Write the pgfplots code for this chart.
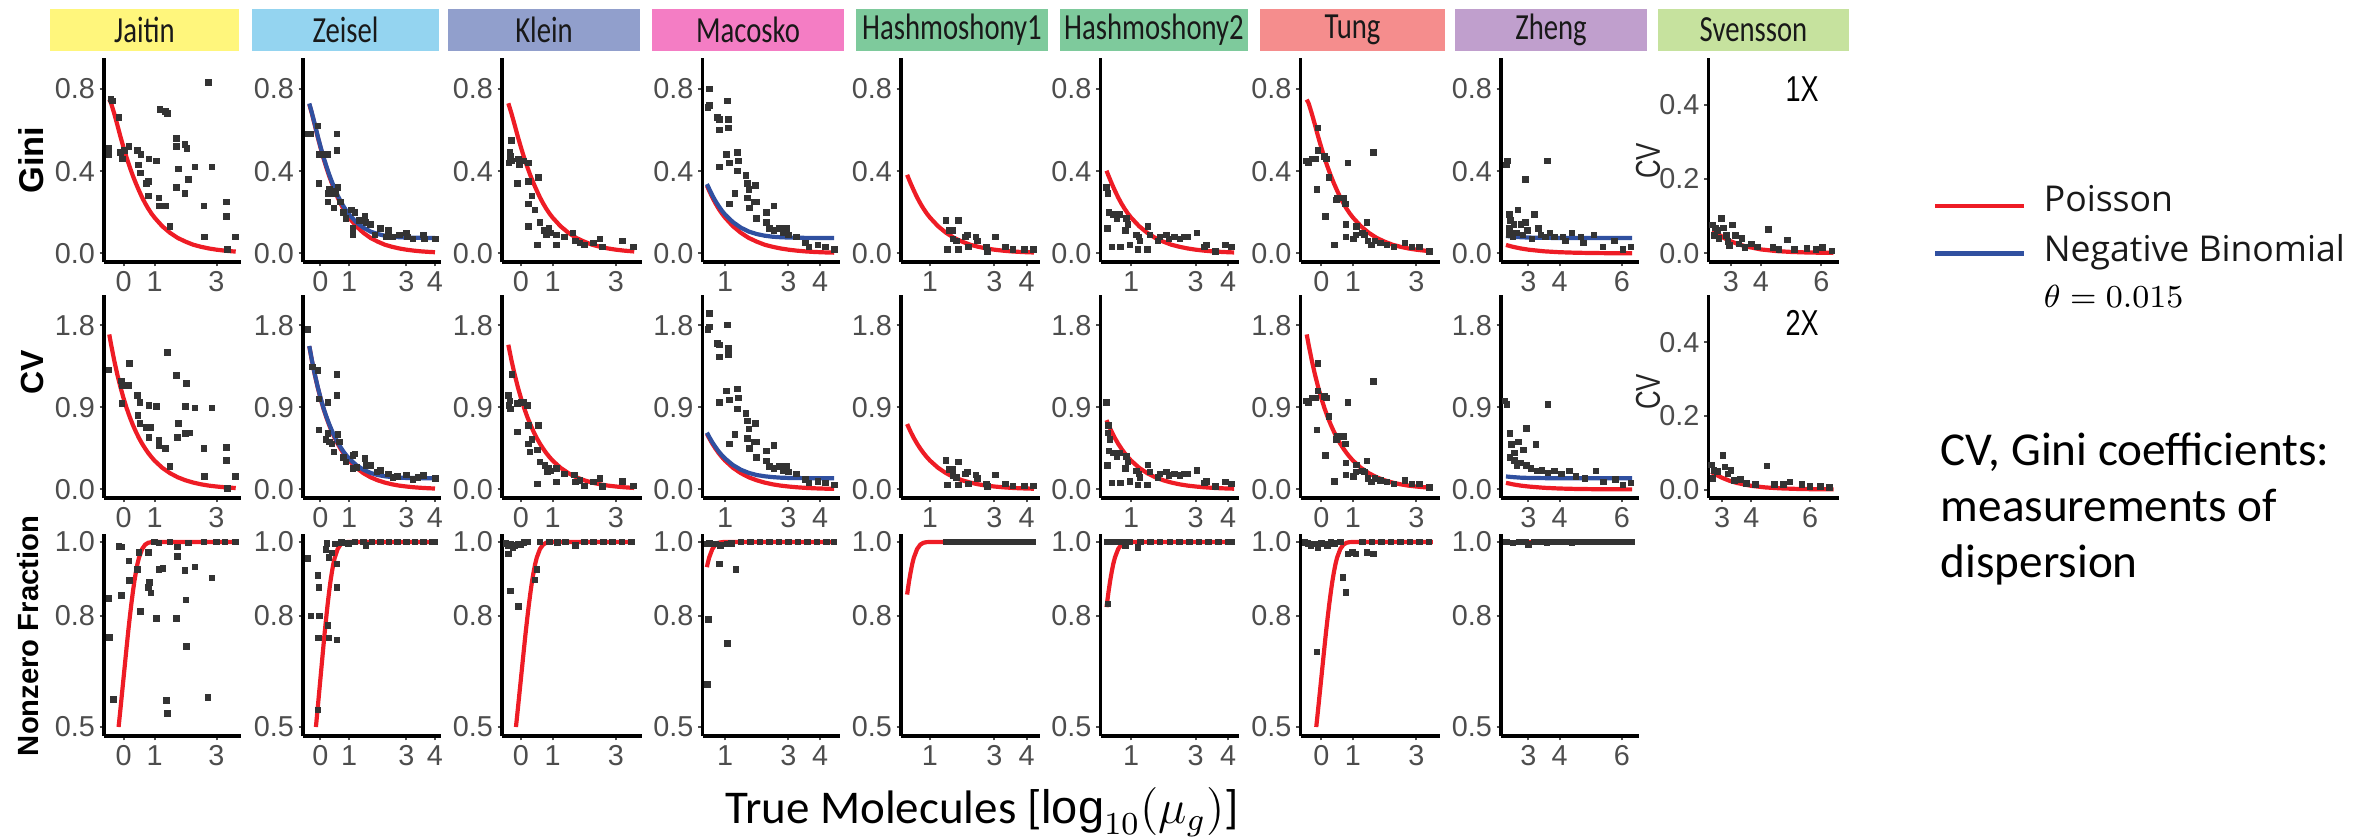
\documentclass[border=0pt]{standalone}
\usepackage{pgfplots}
\pgfplotsset{compat=1.18}
\usepackage{graphicx}
\usepackage{fontspec}
\setmainfont{Liberation Sans}
\newfontfamily\carlito{Carlito}
\newfontfamily\opensans{Open Sans}
\definecolor{tickgray}{HTML}{4D4D4D}
\definecolor{ptgray}{HTML}{333333}
\definecolor{pred}{HTML}{EE1C25}
\definecolor{pblue}{HTML}{3050A0}
\definecolor{hJ}{HTML}{FFF67C}
\definecolor{hZe}{HTML}{94D4F0}
\definecolor{hK}{HTML}{919FCC}
\definecolor{hM}{HTML}{F47DC4}
\definecolor{hH}{HTML}{7ECA9C}
\definecolor{hT}{HTML}{F58D8D}
\definecolor{hZh}{HTML}{C09FCD}
\definecolor{hS}{HTML}{C6E29E}
\newcommand\hd[1]{\scalebox{0.78}[1]{#1}}
\pgfplotsset{
  panel/.style={scale only axis, anchor=south west,
    axis x line*=bottom, axis y line*=left,
    axis line style={line width=0.8pt,-},
    tick align=outside, major tick length=1.1pt,
    tick style={line width=0.5pt,color=tickgray},
    tick label style={font=\fontsize{7.2}{8}\selectfont, text=tickgray},
    xticklabel style={inner sep=1pt}, yticklabel style={inner sep=1pt}},
  pts/.style={only marks, mark=square*, mark size=0.62pt, color=ptgray},
  pois/.style={no marks, line width=1.05pt, color=pred},
  nb/.style={no marks, line width=1.05pt, color=pblue},
  row1/.style={height=51pt, ymin=-0.042, ymax=0.95, ytick={0,0.4,0.8}, yticklabels={0.0,0.4,0.8}},
  row2/.style={height=50.75pt, ymin=-0.094, ymax=2.13, ytick={0,0.9,1.8}, yticklabels={0.0,0.9,1.8}},
  row3/.style={height=50.5pt, ymin=0.4757, ymax=1.0216, ytick={0.5,0.8,1.0}, yticklabels={0.5,0.8,1.0}},
  c1/.style={width=34.25pt, xmin=-0.63, xmax=3.79, xtick={0,1,3}, xticklabels={0,1,3}},
  c2/.style={width=34.5pt, xmin=-0.61, xmax=4.21, xtick={0,1,3,4}, xticklabels={0,1,3,4}},
  c3/.style={width=34.875pt, xmin=-0.6, xmax=3.81, xtick={0,1,3}, xticklabels={0,1,3}},
  c4/.style={width=34.25pt, xmin=0.29, xmax=4.61, xtick={1,3,4}, xticklabels={1,3,4}},
  c5/.style={width=34.625pt, xmin=0.1, xmax=4.4, xtick={1,3,4}, xticklabels={1,3,4}},
  c6/.style={width=34.575pt, xmin=0.06, xmax=4.34, xtick={1,3,4}, xticklabels={1,3,4}},
  c7/.style={width=34.75pt, xmin=-0.65, xmax=3.74, xtick={0,1,3}, xticklabels={0,1,3}},
  c8/.style={width=34.5pt, xmin=2.12, xmax=6.55, xtick={3,4,6}, xticklabels={3,4,6}},
  sv/.style={width=32.575pt, ytick={0,0.2,0.4}, yticklabels={0.0,0.2,0.4}, xtick={3,4,6}, xticklabels={3,4,6}},
}
\begin{document}
\begin{tikzpicture}[x=0.25pt,y=-0.25pt]
\useasboundingbox (0,0) rectangle (2367,837);
% ---------- headers ----------
\fill[hJ] (50,9) rectangle (239,51);
\fill[hZe] (252,9) rectangle (439,51);
\fill[hK] (448,9) rectangle (640,51);
\fill[hM] (652,9) rectangle (844,51);
\fill[hH] (856,9) rectangle (1048,51);
\fill[hH] (1060,9) rectangle (1248,51);
\fill[hT] (1260,9) rectangle (1445,51);
\fill[hZh] (1455,9) rectangle (1647,51);
\fill[hS] (1658,9) rectangle (1849,51);
\begin{scope}[every node/.style={font=\carlito\fontsize{9.2}{10}\selectfont, text=black!90}]
\node at (144.5,30) {\hd{Jaitin}};
\node at (345.5,30) {\hd{Zeisel}};
\node at (544,30) {\hd{Klein}};
\node at (748,30) {\hd{Macosko}};
\node at (952,30) {\hd{Hashmoshony1}};
\node at (1154,30) {\hd{Hashmoshony2}};
\node at (1352.5,30) {\hd{Tung}};
\node at (1551,30) {\hd{Zheng}};
\node at (1753.5,30) {\hd{Svensson}};
\end{scope}
% ---------- row labels ----------
\node[rotate=90, font=\bfseries\fontsize{8.6}{9}\selectfont] at (31,160) {Gini};
\node[rotate=90, font=\bfseries\fontsize{8}{9}\selectfont] at (32,372) {CV};
\node[rotate=90, font=\bfseries\fontsize{7.3}{9}\selectfont] at (28,636) {Nonzero Fraction};

% ================= ROW 1 : Gini =================
\begin{axis}[panel,row1,c1,at={(26pt,-65.5pt)}]
\addplot[pts] coordinates {(-0.4,0.75)(-0.35,0.74)(-0.47,0.51)(-0.47,0.48)(-0.14,0.66)(-0.1,0.49)(-0.04,0.46)(0.03,0.5)(0.17,0.52)(0.45,0.5)(0.49,0.43)(0.56,0.48)(0.54,0.39)(0.75,0.34)(0.8,0.35)(0.82,0.46)(0.8,0.28)(1.06,0.45)(1.14,0.27)(1.14,0.23)(1.17,0.7)(1.35,0.69)(1.41,0.68)(1.35,0.23)(1.5,0.13)(1.71,0.56)(1.71,0.52)(1.78,0.41)(1.71,0.32)(1.99,0.53)(2.05,0.51)(1.98,0.29)(2.09,0.36)(2.3,0.42)(2.59,0.23)(2.62,0.08)(2.75,0.83)(2.86,0.42)(3.32,0.25)(3.32,0.18)(3.35,0.02)(3.61,0.08)};
\addplot[pois] coordinates {(-0.46,0.748)(-0.4,0.73)(-0.3,0.68)(-0.2,0.625)(-0.1,0.568)(0,0.515)(0.1,0.465)(0.2,0.42)(0.3,0.378)(0.4,0.34)(0.5,0.305)(0.6,0.272)(0.7,0.243)(0.8,0.217)(0.9,0.194)(1,0.174)(1.25,0.132)(1.5,0.1)(1.75,0.075)(2,0.057)(2.25,0.042)(2.5,0.032)(2.75,0.024)(3,0.018)(3.25,0.0135)(3.5,0.01)(3.62,0.009)};
\end{axis}
\begin{axis}[panel,row1,c2,at={(75.75pt,-65.5pt)}]
\addplot[pts] coordinates {(-0.44,0.58)(-0.33,0.58)(-0.09,0.62)(-0.05,0.48)(0.03,0.48)(0.27,0.48)(-0.05,0.34)(0.58,0.58)(0.58,0.5)(0.31,0.31)(0.28,0.29)(0.27,0.25)(0.53,0.29)(0.61,0.32)(0.47,0.22)(0.69,0.25)(0.89,0.17)(1.13,0.12)(1.09,0.21)(1.2,0.2)(1.36,0.16)(1.56,0.18)(1.59,0.15)(1.75,0.14)(2.09,0.12)(2.38,0.11)(2.53,0.08)(3.0,0.1)(3.03,0.08)(3.23,0.07)(3.59,0.09)(3.63,0.07)(4.02,0.07)(1.13,0.09)(1.9,0.09)(2.3,0.08)(2.77,0.09)(0.4,0.3)(0.8,0.2)};
\addplot[pois] coordinates {(-0.39,0.725)(-0.3,0.68)(-0.2,0.625)(-0.1,0.568)(0,0.515)(0.1,0.465)(0.2,0.42)(0.3,0.378)(0.4,0.34)(0.5,0.305)(0.6,0.272)(0.7,0.243)(0.8,0.217)(0.9,0.194)(1,0.174)(1.25,0.132)(1.5,0.1)(1.75,0.075)(2,0.057)(2.25,0.042)(2.5,0.032)(2.75,0.024)(3,0.018)(3.25,0.0135)(3.5,0.01)(3.75,0.0075)(4,0.0056)};
\addplot[nb] coordinates {(-0.39,0.729)(-0.3,0.684)(-0.2,0.629)(-0.1,0.573)(0,0.52)(0.1,0.471)(0.2,0.427)(0.3,0.385)(0.4,0.348)(0.5,0.314)(0.6,0.282)(0.7,0.254)(0.8,0.23)(0.9,0.208)(1,0.189)(1.25,0.152)(1.5,0.125)(1.75,0.106)(2,0.094)(2.25,0.086)(2.5,0.081)(2.75,0.0786)(3,0.077)(3.5,0.0755)(4,0.075)};
\end{axis}
\begin{axis}[panel,row1,c3,at={(125.5pt,-65.5pt)}]
\addplot[pts] coordinates {(-0.35,0.49)(-0.33,0.47)(-0.28,0.45)(-0.3,0.55)(-0.08,0.46)(-0.04,0.43)(-0.11,0.34)(0.24,0.44)(0.24,0.35)(0.24,0.24)(0.24,0.13)(0.55,0.37)(0.52,0.04)(0.45,0.21)(0.74,0.11)(0.81,0.09)(0.88,0.12)(1.13,0.09)(1.13,0.04)(1.37,0.08)(1.65,0.1)(1.73,0.06)(2.01,0.04)(2.29,0.05)(2.5,0.07)(2.57,0.03)(3.21,0.06)(3.56,0.03)(1.87,0.05)(-0.38,0.44)(0.1,0.45)(0.35,0.28)(0.6,0.15)(0.95,0.1)};
\addplot[pois] coordinates {(-0.4,0.73)(-0.3,0.68)(-0.2,0.625)(-0.1,0.568)(0,0.515)(0.1,0.465)(0.2,0.42)(0.3,0.378)(0.4,0.34)(0.5,0.305)(0.6,0.272)(0.7,0.243)(0.8,0.217)(0.9,0.194)(1,0.174)(1.25,0.132)(1.5,0.1)(1.75,0.075)(2,0.057)(2.25,0.042)(2.5,0.032)(2.75,0.024)(3,0.018)(3.25,0.0135)(3.58,0.0092)};
\end{axis}
\begin{axis}[panel,row1,c4,at={(175.625pt,-65.5pt)}]
\addplot[pts] coordinates {(0.46,0.71)(0.51,0.72)(0.51,0.80)(0.76,0.66)(0.83,0.65)(0.83,0.6)(1.07,0.74)(1.11,0.65)(1.11,0.61)(0.82,0.42)(1.04,0.48)(1.14,0.44)(1.39,0.49)(1.42,0.45)(1.31,0.29)(1.14,0.24)(1.39,0.4)(1.66,0.38)(1.7,0.34)(1.75,0.31)(1.7,0.27)(1.77,0.22)(1.96,0.33)(1.92,0.25)(2.01,0.25)(1.99,0.17)(2.3,0.2)(2.3,0.15)(2.55,0.23)(2.41,0.12)(2.55,0.11)(2.72,0.12)(2.94,0.12)(3.01,0.09)(3.25,0.08)(3.54,0.05)(3.65,0.03)(3.93,0.04)(4.17,0.03)(4.45,0.02)(2.83,0.1)};
\addplot[pois] coordinates {(0.43,0.329)(0.5,0.305)(0.6,0.272)(0.7,0.243)(0.8,0.217)(0.9,0.194)(1,0.174)(1.25,0.132)(1.5,0.1)(1.75,0.075)(2,0.057)(2.25,0.042)(2.5,0.032)(2.75,0.024)(3,0.018)(3.25,0.0135)(3.5,0.01)(3.75,0.0075)(4,0.0056)(4.25,0.0042)(4.44,0.0035)};
\addplot[nb] coordinates {(0.43,0.337)(0.5,0.314)(0.6,0.282)(0.7,0.254)(0.8,0.23)(0.9,0.208)(1,0.189)(1.25,0.152)(1.5,0.125)(1.75,0.106)(2,0.094)(2.25,0.086)(2.5,0.081)(2.75,0.0786)(3,0.077)(3.5,0.0755)(4,0.075)(4.44,0.0749)};
\end{axis}
\begin{axis}[panel,row1,c5,at={(225.25pt,-65.5pt)}]
\addplot[pts] coordinates {(1.5,0.16)(1.54,0.02)(1.6,0.11)(1.71,0.07)(1.82,0.06)(1.88,0.16)(1.88,0.02)(2.1,0.08)(2.17,0.09)(2.19,0.03)(2.43,0.08)(2.47,0.06)(2.75,0.03)(2.79,0.01)(3.03,0.08)(3.35,0.03)(3.58,0.02)(3.93,0.02)(4.21,0.02)(1.71,0.11)};
\addplot[pois] coordinates {(0.29,0.382)(0.3,0.378)(0.4,0.34)(0.5,0.305)(0.6,0.272)(0.7,0.243)(0.8,0.217)(0.9,0.194)(1,0.174)(1.25,0.132)(1.5,0.1)(1.75,0.075)(2,0.057)(2.25,0.042)(2.5,0.032)(2.75,0.024)(3,0.018)(3.25,0.0135)(3.5,0.01)(3.75,0.0075)(4,0.0056)(4.23,0.0043)};
\end{axis}
\begin{axis}[panel,row1,c6,at={(275.175pt,-65.5pt)}]
\addplot[pts] coordinates {(0.24,0.32)(0.28,0.29)(0.31,0.2)(0.27,0.12)(0.41,0.03)(0.56,0.17)(0.66,0.19)(0.68,0.03)(0.86,0.17)(0.9,0.14)(0.96,0.04)(0.83,0.11)(1.17,0.09)(1.25,0.08)(1.21,0.02)(1.28,0.06)(1.52,0.13)(1.51,0.02)(1.58,0.09)(1.83,0.06)(1.89,0.08)(2.1,0.09)(2.17,0.07)(2.35,0.08)(2.51,0.07)(2.65,0.08)(2.76,0.08)(3.04,0.1)(3.27,0.03)(3.34,0.04)(3.61,0.01)(3.92,0.04)(4.1,0.03)(0.45,0.19)};
\addplot[pois] coordinates {(0.24,0.402)(0.3,0.378)(0.4,0.34)(0.5,0.305)(0.6,0.272)(0.7,0.243)(0.8,0.217)(0.9,0.194)(1,0.174)(1.25,0.132)(1.5,0.1)(1.75,0.075)(2,0.057)(2.25,0.042)(2.5,0.032)(2.75,0.024)(3,0.018)(3.25,0.0135)(3.5,0.01)(3.75,0.0075)(4,0.0056)(4.19,0.0045)};
\end{axis}
\begin{axis}[panel,row1,c7,at={(325.175pt,-65.5pt)}]
\addplot[pts] coordinates {(-0.47,0.45)(-0.4,0.44)(-0.28,0.46)(-0.18,0.46)(-0.11,0.5)(-0.11,0.61)(0.1,0.47)(0.17,0.46)(-0.14,0.31)(0.14,0.18)(0.24,0.37)(0.42,0.04)(0.48,0.26)(0.52,0.27)(0.71,0.27)(0.76,0.24)(0.78,0.14)(0.78,0.08)(0.85,0.44)(1.02,0.07)(1.09,0.09)(1.12,0.13)(1.44,0.15)(1.37,0.09)(1.58,0.04)(1.65,0.49)(1.7,0.06)(1.87,0.05)(2.08,0.04)(2.29,0.03)(2.64,0.05)(2.86,0.03)(3.11,0.03)(3.42,0.01)(1.3,0.1)(1.47,0.06)};
\addplot[pois] coordinates {(-0.46,0.748)(-0.4,0.73)(-0.3,0.68)(-0.2,0.625)(-0.1,0.568)(0,0.515)(0.1,0.465)(0.2,0.42)(0.3,0.378)(0.4,0.34)(0.5,0.305)(0.6,0.272)(0.7,0.243)(0.8,0.217)(0.9,0.194)(1,0.174)(1.25,0.132)(1.5,0.1)(1.75,0.075)(2,0.057)(2.25,0.042)(2.5,0.032)(2.75,0.024)(3,0.018)(3.25,0.0135)(3.52,0.0098)};
\end{axis}
\begin{axis}[panel,row1,c8,at={(375.25pt,-65.5pt)}]
\addplot[pts] coordinates {(2.29,0.43)(2.33,0.45)(3.61,0.45)(2.9,0.36)(2.4,0.19)(2.43,0.16)(2.66,0.21)(3.19,0.19)(2.4,0.12)(2.54,0.14)(2.76,0.14)(2.9,0.15)(2.61,0.1)(2.83,0.09)(2.97,0.11)(3.11,0.07)(3.33,0.12)(3.4,0.09)(3.54,0.08)(3.69,0.1)(3.83,0.08)(4.11,0.08)(4.4,0.1)(4.19,0.06)(4.69,0.08)(4.76,0.05)(5.11,0.09)(5.4,0.03)(5.76,0.06)(6.04,0.02)(6.29,0.03)(2.4,0.09)(2.51,0.08)};
\addplot[pois] coordinates {(2.28,0.041)(2.5,0.032)(2.75,0.024)(3,0.018)(3.5,0.01)(4,0.0056)(4.5,0.0032)(5,0.0018)(5.5,0.001)(6,0.0006)(6.33,0.0004)};
\addplot[nb] coordinates {(2.28,0.085)(2.5,0.0812)(2.75,0.0786)(3,0.077)(3.5,0.0755)(4,0.075)(5,0.0748)(6.33,0.0748)};
\end{axis}
\begin{axis}[panel,sv,height=51pt,ymin=-0.024,ymax=0.527,xmin=2.26,xmax=6.58,at={(427.125pt,-65.5pt)}]
\addplot[pts] coordinates {(2.4,0.076)(2.45,0.047)(2.55,0.061)(2.69,0.093)(2.75,0.068)(2.86,0.047)(2.9,0.032)(3.06,0.076)(3.16,0.047)(3.27,0.025)(3.37,0.039)(3.68,0.025)(3.88,0.017)(4.25,0.064)(4.4,0.015)(4.6,0.01)(4.87,0.035)(5.11,0.01)(5.53,0.013)(5.83,0.01)(6.04,0.015)(6.35,0.006)(2.49,0.068)(2.61,0.039)(2.96,0.02)(3.47,0.015)};
\addplot[pois] coordinates {(2.41,0.0624)(2.5,0.056)(2.75,0.042)(3,0.032)(3.25,0.024)(3.5,0.018)(4,0.01)(4.5,0.0056)(5,0.0032)(5.5,0.0018)(6,0.001)(6.4,0.0006)};
\end{axis}

% ================= ROW 2 : CV =================
\begin{axis}[panel,row2,c1,at={(26pt,-124.5pt)}]
\addplot[pts] coordinates {(-0.47,1.31)(-0.06,1.19)(-0.04,1.14)(0.18,1.14)(-0.05,0.94)(0.2,1.38)(0.45,1.03)(0.53,0.95)(0.47,0.81)(0.53,0.72)(0.75,0.68)(0.87,0.68)(0.82,0.57)(0.82,0.92)(1.06,0.91)(1.14,0.54)(1.14,0.48)(1.35,0.45)(1.41,1.5)(1.5,0.25)(1.71,1.25)(1.78,0.72)(1.74,0.57)(2.03,1.16)(2.0,0.91)(2.0,0.61)(2.12,0.62)(2.3,0.89)(2.59,0.45)(2.62,0.14)(2.86,0.89)(3.32,0.46)(3.32,0.32)(3.35,0.01)(3.61,0.14)};
\addplot[pois] coordinates {(-0.46,1.698)(-0.4,1.585)(-0.3,1.413)(-0.2,1.259)(-0.1,1.122)(0,1)(0.1,0.891)(0.2,0.794)(0.3,0.708)(0.4,0.631)(0.5,0.562)(0.6,0.501)(0.7,0.447)(0.8,0.398)(0.9,0.355)(1,0.316)(1.25,0.237)(1.5,0.178)(1.75,0.133)(2,0.1)(2.25,0.075)(2.5,0.056)(2.75,0.042)(3,0.032)(3.25,0.024)(3.5,0.018)(3.62,0.0155)};
\end{axis}
\begin{axis}[panel,row2,c2,at={(75.75pt,-124.5pt)}]
\addplot[pts] coordinates {(-0.44,1.75)(-0.28,1.34)(-0.08,1.3)(-0.05,0.99)(0.27,0.95)(0.58,1.26)(0.58,1.03)(-0.05,0.65)(0.27,0.61)(0.31,0.52)(0.61,0.6)(0.47,0.41)(0.66,0.52)(0.89,0.3)(1.13,0.37)(1.2,0.39)(1.13,0.23)(1.56,0.34)(1.59,0.26)(1.75,0.26)(2.09,0.21)(2.38,0.17)(2.53,0.13)(3.0,0.16)(3.23,0.11)(3.59,0.15)(4.02,0.12)(1.28,0.24)(1.98,0.19)(0.2,0.55)(0.4,0.5)(0.8,0.35)(2.7,0.14)(3.4,0.13)};
\addplot[pois] coordinates {(-0.39,1.567)(-0.3,1.413)(-0.2,1.259)(-0.1,1.122)(0,1)(0.1,0.891)(0.2,0.794)(0.3,0.708)(0.4,0.631)(0.5,0.562)(0.6,0.501)(0.7,0.447)(0.8,0.398)(0.9,0.355)(1,0.316)(1.25,0.237)(1.5,0.178)(1.75,0.133)(2,0.1)(2.25,0.075)(2.5,0.056)(2.75,0.042)(3,0.032)(3.25,0.024)(3.5,0.018)(3.75,0.0133)(4,0.01)};
\addplot[nb] coordinates {(-0.39,1.572)(-0.3,1.418)(-0.2,1.265)(-0.1,1.129)(0,1.007)(0.1,0.899)(0.2,0.804)(0.3,0.719)(0.4,0.643)(0.5,0.576)(0.6,0.516)(0.7,0.464)(0.8,0.416)(0.9,0.375)(1,0.339)(1.25,0.267)(1.5,0.216)(1.75,0.181)(2,0.158)(2.25,0.144)(2.5,0.135)(2.75,0.129)(3,0.126)(3.5,0.1237)(4,0.1229)};
\end{axis}
\begin{axis}[panel,row2,c3,at={(125.5pt,-124.5pt)}]
\addplot[pts] coordinates {(-0.4,1.03)(-0.35,0.97)(-0.33,0.88)(-0.28,1.26)(-0.11,0.94)(0,0.95)(-0.11,0.63)(0.21,0.92)(0.24,0.7)(0.24,0.5)(0.28,0.41)(0.55,0.7)(0.52,0.43)(0.52,0.06)(0.76,0.26)(0.83,0.19)(0.88,0.23)(1.13,0.23)(1.13,0.08)(1.37,0.17)(1.7,0.16)(1.73,0.08)(2.01,0.04)(2.29,0.08)(2.5,0.12)(2.57,0.03)(3.21,0.09)(3.56,0.04)(-0.38,0.92)(0.1,0.95)(0.35,0.55)(0.6,0.3)(0.95,0.2)(1.87,0.1)};
\addplot[pois] coordinates {(-0.4,1.585)(-0.3,1.413)(-0.2,1.259)(-0.1,1.122)(0,1)(0.1,0.891)(0.2,0.794)(0.3,0.708)(0.4,0.631)(0.5,0.562)(0.6,0.501)(0.7,0.447)(0.8,0.398)(0.9,0.355)(1,0.316)(1.25,0.237)(1.5,0.178)(1.75,0.133)(2,0.1)(2.25,0.075)(2.5,0.056)(2.75,0.042)(3,0.032)(3.25,0.024)(3.58,0.0163)};
\end{axis}
\begin{axis}[panel,row2,c4,at={(175.625pt,-124.5pt)}]
\addplot[pts] coordinates {(0.46,1.75)(0.51,1.78)(0.51,1.93)(0.76,1.6)(0.83,1.58)(0.83,1.45)(1.07,1.8)(1.11,1.55)(1.11,1.48)(0.82,0.95)(1.04,1.08)(1.14,0.98)(1.39,1.1)(1.42,1.0)(1.31,0.6)(1.14,0.5)(1.39,0.88)(1.66,0.83)(1.7,0.75)(1.75,0.66)(1.7,0.56)(1.77,0.45)(1.96,0.72)(1.92,0.52)(2.01,0.52)(1.99,0.35)(2.3,0.42)(2.3,0.31)(2.55,0.48)(2.41,0.25)(2.55,0.23)(2.72,0.25)(2.94,0.25)(3.01,0.19)(3.25,0.17)(3.54,0.11)(3.65,0.07)(3.93,0.09)(4.17,0.07)(4.45,0.05)(2.83,0.21)};
\addplot[pois] coordinates {(0.43,0.61)(0.5,0.562)(0.6,0.501)(0.7,0.447)(0.8,0.398)(0.9,0.355)(1,0.316)(1.25,0.237)(1.5,0.178)(1.75,0.133)(2,0.1)(2.25,0.075)(2.5,0.056)(2.75,0.042)(3,0.032)(3.25,0.024)(3.5,0.018)(3.75,0.0133)(4,0.01)(4.25,0.0075)(4.44,0.0063)};
\addplot[nb] coordinates {(0.43,0.622)(0.5,0.576)(0.6,0.516)(0.7,0.464)(0.8,0.416)(0.9,0.375)(1,0.339)(1.25,0.267)(1.5,0.216)(1.75,0.181)(2,0.158)(2.25,0.144)(2.5,0.135)(2.75,0.129)(3,0.126)(3.5,0.1237)(4,0.1229)(4.44,0.1226)};
\end{axis}
\begin{axis}[panel,row2,c5,at={(225.25pt,-124.5pt)}]
\addplot[pts] coordinates {(1.5,0.32)(1.54,0.05)(1.6,0.22)(1.71,0.15)(1.82,0.13)(1.88,0.3)(1.88,0.05)(2.1,0.17)(2.17,0.19)(2.19,0.06)(2.43,0.16)(2.47,0.12)(2.75,0.06)(2.79,0.03)(3.03,0.16)(3.35,0.06)(3.58,0.04)(3.93,0.04)(4.21,0.04)(1.71,0.22)};
\addplot[pois] coordinates {(0.29,0.716)(0.3,0.708)(0.4,0.631)(0.5,0.562)(0.6,0.501)(0.7,0.447)(0.8,0.398)(0.9,0.355)(1,0.316)(1.25,0.237)(1.5,0.178)(1.75,0.133)(2,0.1)(2.25,0.075)(2.5,0.056)(2.75,0.042)(3,0.032)(3.25,0.024)(3.5,0.018)(3.75,0.0133)(4,0.01)(4.23,0.0077)};
\end{axis}
\begin{axis}[panel,row2,c6,at={(275.175pt,-124.5pt)}]
\addplot[pts] coordinates {(0.24,0.95)(0.28,0.62)(0.31,0.42)(0.27,0.26)(0.41,0.07)(0.56,0.36)(0.66,0.4)(0.68,0.07)(0.86,0.36)(0.9,0.3)(0.96,0.09)(0.83,0.23)(1.17,0.2)(1.25,0.17)(1.21,0.05)(1.28,0.13)(1.52,0.27)(1.51,0.05)(1.58,0.19)(1.83,0.13)(1.89,0.17)(2.1,0.19)(2.17,0.15)(2.35,0.17)(2.51,0.15)(2.65,0.17)(2.76,0.17)(3.04,0.21)(3.27,0.07)(3.34,0.09)(3.61,0.03)(3.92,0.08)(4.1,0.06)(0.45,0.4)(0.3,0.7)(0.35,0.55)};
\addplot[pois] coordinates {(0.24,0.759)(0.3,0.708)(0.4,0.631)(0.5,0.562)(0.6,0.501)(0.7,0.447)(0.8,0.398)(0.9,0.355)(1,0.316)(1.25,0.237)(1.5,0.178)(1.75,0.133)(2,0.1)(2.25,0.075)(2.5,0.056)(2.75,0.042)(3,0.032)(3.25,0.024)(3.5,0.018)(3.75,0.0133)(4,0.01)(4.19,0.008)};
\end{axis}
\begin{axis}[panel,row2,c7,at={(325.175pt,-124.5pt)}]
\addplot[pts] coordinates {(-0.47,0.97)(-0.4,0.95)(-0.28,1.0)(-0.18,1.0)(-0.11,1.08)(-0.11,1.38)(0.1,1.02)(0.17,1.0)(-0.14,0.65)(0.14,0.37)(0.24,0.8)(0.42,0.09)(0.48,0.55)(0.52,0.58)(0.71,0.58)(0.76,0.5)(0.78,0.29)(0.78,0.16)(0.85,0.95)(1.02,0.14)(1.09,0.19)(1.12,0.27)(1.44,0.31)(1.37,0.19)(1.58,0.08)(1.65,1.18)(1.7,0.12)(1.87,0.1)(2.08,0.08)(2.29,0.06)(2.64,0.1)(2.86,0.06)(3.11,0.06)(3.42,0.02)(1.3,0.2)(1.47,0.12)};
\addplot[pois] coordinates {(-0.46,1.698)(-0.4,1.585)(-0.3,1.413)(-0.2,1.259)(-0.1,1.122)(0,1)(0.1,0.891)(0.2,0.794)(0.3,0.708)(0.4,0.631)(0.5,0.562)(0.6,0.501)(0.7,0.447)(0.8,0.398)(0.9,0.355)(1,0.316)(1.25,0.237)(1.5,0.178)(1.75,0.133)(2,0.1)(2.25,0.075)(2.5,0.056)(2.75,0.042)(3,0.032)(3.25,0.024)(3.52,0.0174)};
\end{axis}
\begin{axis}[panel,row2,c8,at={(375.25pt,-124.5pt)}]
\addplot[pts] coordinates {(2.25,0.97)(2.31,0.93)(3.63,0.93)(2.94,0.67)(2.41,0.61)(2.45,0.49)(2.68,0.52)(2.84,0.43)(3.24,0.49)(2.41,0.35)(2.55,0.32)(2.74,0.29)(2.94,0.26)(3.08,0.23)(3.28,0.2)(3.43,0.21)(3.63,0.18)(3.83,0.2)(4.07,0.17)(4.32,0.2)(4.52,0.14)(4.81,0.12)(5.17,0.2)(5.41,0.08)(5.8,0.11)(6.04,0.05)(6.29,0.07)(2.55,0.4)(2.64,0.26)};
\addplot[pois] coordinates {(2.28,0.0724)(2.5,0.056)(2.75,0.042)(3,0.032)(3.5,0.018)(4,0.01)(4.5,0.0056)(5,0.0032)(5.5,0.0018)(6,0.001)(6.33,0.0007)};
\addplot[nb] coordinates {(2.28,0.142)(2.5,0.135)(2.75,0.129)(3,0.126)(3.5,0.1237)(4,0.1229)(5,0.1225)(6.33,0.1225)};
\end{axis}
\begin{axis}[panel,sv,height=50.75pt,ymin=-0.023,ymax=0.528,xmin=2.54,xmax=6.98,at={(427.125pt,-124.5pt)}]
\addplot[pts] coordinates {(2.64,0.067)(2.73,0.052)(2.69,0.03)(2.85,0.049)(3.04,0.093)(3.1,0.061)(3.21,0.042)(3.31,0.052)(3.42,0.025)(3.63,0.028)(3.84,0.017)(4.15,0.013)(4.53,0.064)(4.78,0.013)(5.1,0.013)(5.31,0.02)(5.73,0.013)(6.0,0.009)(6.35,0.009)(6.67,0.006)};
\addplot[pois] coordinates {(2.64,0.0479)(2.75,0.042)(3,0.032)(3.25,0.024)(3.5,0.018)(4,0.01)(4.5,0.0056)(5,0.0032)(5.5,0.0018)(6,0.001)(6.5,0.00056)(6.8,0.0004)};
\end{axis}

% ================= ROW 3 : Nonzero fraction =================
\begin{axis}[panel,row3,c1,at={(26pt,-184pt)}]
\addplot[pts] coordinates {(-0.47,0.848)(-0.46,0.742)(-0.33,0.575)(-0.14,0.988)(-0.06,0.986)(-0.06,0.855)(0.17,0.949)(0.2,0.896)(0.45,0.925)(0.5,0.971)(0.54,0.812)(0.8,0.877)(0.83,0.891)(0.88,0.862)(0.8,0.971)(1.06,0.794)(1.14,0.925)(1.28,0.928)(1.14,0.997)(1.39,0.572)(1.42,0.536)(1.5,1.0)(1.71,0.794)(1.74,0.986)(1.74,0.961)(1.99,0.923)(2.01,0.843)(2.03,0.717)(2.1,0.997)(2.3,0.932)(2.59,1.0)(2.73,0.58)(2.86,0.903)(3.27,1)(3.61,1)(1.0,1.0)(3.0,1.0)};
\addplot[pois] coordinates {(-0.159,0.5)(-0.1,0.548)(-0.05,0.59)(0,0.632)(0.05,0.674)(0.1,0.716)(0.15,0.757)(0.2,0.795)(0.25,0.831)(0.3,0.864)(0.35,0.894)(0.4,0.919)(0.45,0.941)(0.5,0.958)(0.6,0.981)(0.7,0.993)(0.8,0.998)(0.9,0.9996)(1,1)(3.62,1)};
\end{axis}
\begin{axis}[panel,row3,c2,at={(75.75pt,-184pt)}]
\addplot[pts] coordinates {(-0.44,0.955)(-0.33,0.80)(-0.08,0.91)(-0.05,0.877)(-0.03,0.80)(-0.06,0.74)(-0.08,0.546)(0.23,0.996)(0.3,0.958)(0.27,0.775)(0.3,0.74)(0.58,0.94)(0.58,0.877)(0.58,0.735)(0.5,0.994)(0.73,0.998)(0.97,0.996)(1.59,0.99)(1.2,1)(1.5,1)(1.8,1)(2.1,1)(2.4,1)(2.7,1)(3.0,1)(3.3,1)(3.6,1)(3.9,1)(4.0,1)(0.2,0.98)(0.4,0.97)};
\addplot[pois] coordinates {(-0.159,0.5)(-0.1,0.548)(-0.05,0.59)(0,0.632)(0.05,0.674)(0.1,0.716)(0.15,0.757)(0.2,0.795)(0.25,0.831)(0.3,0.864)(0.35,0.894)(0.4,0.919)(0.45,0.941)(0.5,0.958)(0.6,0.981)(0.7,0.993)(0.8,0.998)(0.9,0.9996)(1,1)(4,1)};
\end{axis}
\begin{axis}[panel,row3,c3,at={(125.5pt,-184pt)}]
\addplot[pts] coordinates {(-0.47,0.996)(-0.4,0.99)(-0.33,0.995)(-0.25,0.985)(-0.2,0.99)(-0.1,0.995)(0,0.993)(0.1,0.998)(0.22,1.0)(-0.4,0.967)(-0.33,0.868)(-0.08,0.825)(0.5,0.926)(0.45,0.897)(1.16,0.998)(1.73,0.991)(0.6,1)(0.9,1)(1.4,1)(2.0,1)(2.3,1)(2.6,1)(2.9,1)(3.2,1)(3.5,1)};
\addplot[pois] coordinates {(-0.159,0.5)(-0.1,0.548)(-0.05,0.59)(0,0.632)(0.05,0.674)(0.1,0.716)(0.15,0.757)(0.2,0.795)(0.25,0.831)(0.3,0.864)(0.35,0.894)(0.4,0.919)(0.45,0.941)(0.5,0.958)(0.6,0.981)(0.7,0.993)(0.8,0.998)(0.9,0.9996)(1,1)(3.58,1)};
\end{axis}
\begin{axis}[panel,row3,c4,at={(175.625pt,-184pt)}]
\addplot[pts] coordinates {(0.44,0.994)(0.51,0.996)(0.48,0.79)(0.44,0.615)(0.83,0.94)(0.86,0.99)(1.07,0.994)(1.21,0.996)(1.07,0.725)(1.35,0.926)(0.7,0.995)(1.5,1)(1.8,1)(2.1,1)(2.4,1)(2.7,1)(3,1)(3.3,1)(3.6,1)(3.9,1)(4.2,1)(4.44,1)};
\addplot[pois] coordinates {(0.43,0.932)(0.45,0.941)(0.5,0.958)(0.6,0.981)(0.7,0.993)(0.8,0.998)(0.9,0.9996)(1,1)(4.44,1)};
\end{axis}
\begin{axis}[panel,row3,c5,at={(225.25pt,-184pt)}]
\addplot[pts] coordinates {(1.5,1)(1.65,1)(1.8,1)(1.95,1)(2.1,1)(2.25,1)(2.4,1)(2.55,1)(2.7,1)(2.85,1)(3.0,1)(3.15,1)(3.3,1)(3.45,1)(3.6,1)(3.75,1)(3.9,1)(4.05,1)(4.2,1)};
\addplot[pois] coordinates {(0.29,0.858)(0.3,0.864)(0.35,0.894)(0.4,0.919)(0.45,0.941)(0.5,0.958)(0.6,0.981)(0.7,0.993)(0.8,0.998)(0.9,0.9996)(1,1)(4.23,1)};
\end{axis}
\begin{axis}[panel,row3,c6,at={(275.175pt,-184pt)}]
\addplot[pts] coordinates {(0.25,1)(0.3,1)(0.35,1)(0.4,1)(0.45,1)(0.5,1)(0.55,1)(0.6,1)(0.65,1)(0.7,1)(0.75,1)(0.8,1)(0.85,1)(0.9,1)(0.95,1)(0.28,0.832)(0.83,0.99)(1.21,0.985)(1.3,1)(1.6,1)(1.9,1)(2.2,1)(2.5,1)(2.8,1)(3.1,1)(3.4,1)(3.7,1)(4.0,1)(4.1,1)};
\addplot[pois] coordinates {(0.24,0.824)(0.25,0.831)(0.3,0.864)(0.35,0.894)(0.4,0.919)(0.45,0.941)(0.5,0.958)(0.6,0.981)(0.7,0.993)(0.8,0.998)(0.9,0.9996)(1,1)(4.19,1)};
\end{axis}
\begin{axis}[panel,row3,c7,at={(325.175pt,-184pt)}]
\addplot[pts] coordinates {(-0.51,0.998)(-0.42,0.996)(-0.33,0.991)(-0.25,0.995)(-0.18,0.994)(-0.11,0.985)(0.0,0.997)(0.1,0.994)(0.2,0.989)(0.31,0.998)(0.42,0.996)(-0.14,0.703)(0.69,0.904)(0.78,0.863)(0.85,0.967)(0.99,0.971)(1.09,0.967)(1.44,0.971)(1.65,0.967)(0.6,1)(1.3,1)(1.6,1)(1.9,1)(2.2,1)(2.5,1)(2.8,1)(3.1,1)(3.4,1)};
\addplot[pois] coordinates {(-0.159,0.5)(-0.1,0.548)(-0.05,0.59)(0,0.632)(0.05,0.674)(0.1,0.716)(0.15,0.757)(0.2,0.795)(0.25,0.831)(0.3,0.864)(0.35,0.894)(0.4,0.919)(0.45,0.941)(0.5,0.958)(0.6,0.981)(0.7,0.993)(0.8,0.998)(0.9,0.9996)(1,1)(3.52,1)};
\end{axis}
\begin{axis}[panel,row3,c8,at={(375.25pt,-184pt)}]
\addplot[pts] coordinates {(2.3,1)(2.5,0.997)(2.7,1)(2.9,1)(3.0,0.993)(3.2,1)(3.4,1)(3.6,0.998)(3.8,1)(4.0,1)(4.2,1)(4.4,0.998)(4.6,1)(4.8,1)(5.0,1)(5.2,1)(5.4,1)(5.6,1)(5.8,1)(6.0,1)(6.2,1)(6.3,1)};
\addplot[pois] coordinates {(2.28,1)(6.33,1)};
\end{axis}

% ---------- Svensson annotations ----------
\node[rotate=90, font=\fontsize{8.6}{9}\selectfont, text=black!85] at (1648,161) {\scalebox{0.75}[1]{CV}};
\node[rotate=90, font=\fontsize{8.6}{9}\selectfont, text=black!85] at (1648,392) {\scalebox{0.75}[1]{CV}};
\node[font=\fontsize{9}{10}\selectfont] at (1802,89) {\scalebox{0.75}[1]{1X}};
\node[font=\fontsize{9}{10}\selectfont] at (1802,323) {\scalebox{0.75}[1]{2X}};

% ---------- legend ----------
\draw[pred, line width=1.1pt] (1935,205.7) -- (2024,205.7);
\draw[pblue, line width=1.1pt] (1935,253.3) -- (2024,253.3);
\node[anchor=base west, inner sep=0pt, font=\opensans\fontsize{8.9}{10}\selectfont, text=black!90] at (2043,211.7) {Poisson};
\node[anchor=base west, inner sep=0pt, font=\opensans\fontsize{8.9}{10}\selectfont, text=black!90] at (2043,261.7) {Negative Binomial};
\node[anchor=base west, inner sep=0pt, font=\fontsize{8.2}{9.6}\selectfont] at (2043,307) {$\theta = 0.015$};

% ---------- side text ----------
\begin{scope}[every node/.style={anchor=base west, inner sep=0pt, font=\carlito\fontsize{11.8}{13.75}\selectfont}]
\node at (1940,465) {CV, Gini coefficients:};
\node at (1940,521) {measurements of};
\node at (1940,577) {dispersion};
\end{scope}

% ---------- x label ----------
\node[anchor=base, inner sep=0pt, font=\carlito\fontsize{11.75}{14}\selectfont] at (982,823) {True Molecules [$\log_{10}(\mu_g)$]};
\end{tikzpicture}
\end{document}
